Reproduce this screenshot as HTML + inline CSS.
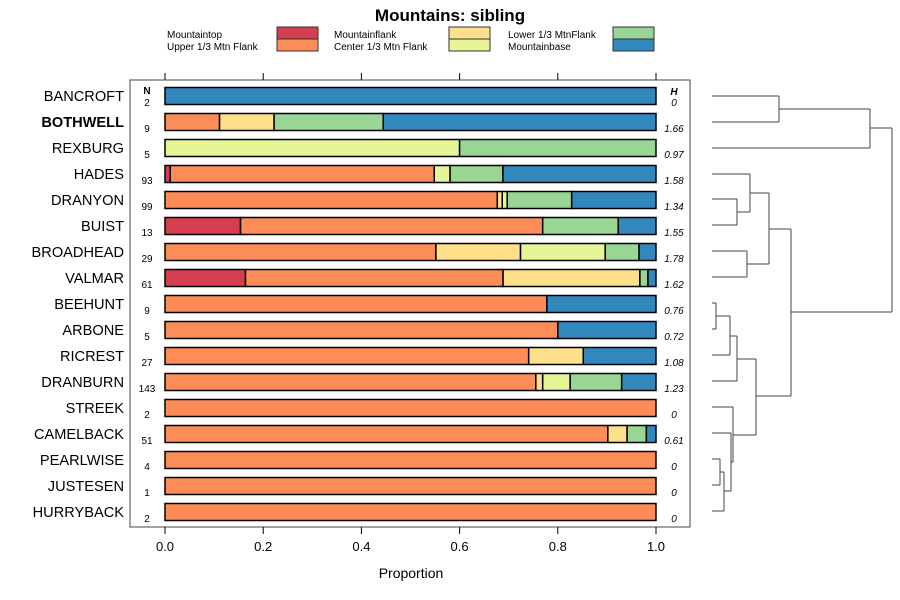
<!DOCTYPE html>
<html><head><meta charset="utf-8"><style>
body{margin:0;background:#fff}
svg{display:block;font-family:"Liberation Sans",sans-serif}
</style></head><body>
<svg id="c" width="900" height="600" viewBox="0 0 900 600"></svg>
<script>
const sites=["BANCROFT","BOTHWELL","REXBURG","HADES","DRANYON","BUIST","BROADHEAD","VALMAR","BEEHUNT","ARBONE","RICREST","DRANBURN","STREEK","CAMELBACK","PEARLWISE","JUSTESEN","HURRYBACK"];
const categories=["Mountaintop","Upper 1/3 Mtn Flank","Mountainflank","Center 1/3 Mtn Flank","Lower 1/3 MtnFlank","Mountainbase"];
const colors=["#d53e4f","#fc8d59","#fee08b","#e6f598","#99d594","#3288bd"];
const mountaintop=[0,0,0,1,0,2,0,10,0,0,0,0,0,0,0,0,0];
const upperFlank=[0,1,0,50,67,8,16,32,7,4,20,108,2,46,4,1,2];
const mountainflank=[0,1,0,0,1,0,5,17,0,0,3,2,0,2,0,0,0];
const centerFlank=[0,0,3,3,1,0,5,0,0,0,0,8,0,0,0,0,0];
const lowerFlank=[0,2,2,10,13,2,2,1,0,0,0,15,0,2,0,0,0];
const mountainbase=[2,5,0,29,17,1,1,1,2,1,4,10,0,1,0,0,0];
const hValues=["0","1.66","0.97","1.58","1.34","1.55","1.78","1.62","0.76","0.72","1.08","1.23","0","0.61","0","0","0"];
const xTicks=[0,0.2,0.4,0.6,0.8,1.0];
const xTickLabels=["0.0","0.2","0.4","0.6","0.8","1.0"];
const series=[mountaintop,upperFlank,mountainflank,centerFlank,lowerFlank,mountainbase];

const svg=document.getElementById('c');
const NS='http://www.w3.org/2000/svg';
function mk(t,a,txt){const e=document.createElementNS(NS,t);for(const k in a)e.setAttribute(k,a[k]);if(txt!==undefined)e.textContent=txt;svg.appendChild(e);return e;}
const X=v=>165+v*491;
const Y=i=>96+i*26;

let e=mk('text',{x:450,y:21,'text-anchor':'middle','font-size':17,'font-weight':'bold'},'Mountains: sibling');


const lx=[167,334,508], bx=[277,449,613];
categories.forEach((c,k)=>{const col=Math.floor(k/2),r=k%2;
 let t=mk('text',{x:lx[col],y:38+r*12,'font-size':10},c);
 
 let b=mk('rect',{x:bx[col],y:27+r*12,width:41,height:12,fill:colors[k],stroke:'#333','stroke-width':1});
 
});

e=mk('rect',{x:130,y:80,width:560,height:447,fill:'none',stroke:'#444','stroke-width':1});

xTicks.forEach((v,k)=>{
 let t=mk('line',{x1:X(v),x2:X(v),y1:80,y2:73,stroke:'#000'});
 
 t=mk('line',{x1:X(v),x2:X(v),y1:527,y2:534,stroke:'#000'});
 
 t=mk('text',{x:X(v),y:551,'text-anchor':'middle','font-size':13},xTickLabels[k]);
 
});
e=mk('text',{x:411,y:578,'text-anchor':'middle','font-size':14},'Proportion');

e=mk('text',{x:147,y:94,'text-anchor':'middle','font-size':10,'font-weight':'bold'},'N');

e=mk('text',{x:674,y:95,'text-anchor':'middle','font-size':10,'font-weight':'bold','font-style':'italic'},'H');


sites.forEach((s,i)=>{
 const y=Y(i);
 let n=0;series.forEach(a=>n+=a[i]);
 let t=mk('text',{x:124,y:y+5,'text-anchor':'end','font-size':14.6,'font-weight':s==='BOTHWELL'?'bold':'normal'},s);
 
 t=mk('text',{x:147,y:y+10,'text-anchor':'middle','font-size':10},String(n));
 
 t=mk('text',{x:674,y:y+10,'text-anchor':'middle','font-size':10,'font-style':'italic'},hValues[i]);
 
 let cum=0;
 series.forEach((a,k)=>{if(!a[i])return;
  const x0=X(cum/n);cum+=a[i];const x1=X(cum/n);
  let r=mk('rect',{x:x0,y:y-8.5,width:x1-x0,height:17,fill:colors[k],stroke:'#000','stroke-width':1.5});
  
 });
});

const L=712;
const segs=[
 [L,96,779,96],[L,122,779,122],[779,96,779,122],[779,109,870,109],[L,148,870,148],[870,109,870,148],[870,128,892,128],
 [L,174,750,174],[L,199,737,199],[L,225,737,225],[737,199,737,225],[737,212,750,212],[750,174,750,212],[750,193,769,193],
 [L,251,747,251],[L,277,747,277],[747,251,747,277],[747,264,769,264],[769,193,769,264],[769,229,791,229],
 [L,303,716,303],[L,329,716,329],[716,303,716,329],[716,316,730,316],[L,355,730,355],[730,316,730,355],[730,336,737,336],
 [L,381,737,381],[737,336,737,381],[737,359,756,359],
 [L,407,733,407],[L,433,731,433],[L,459,720,459],[L,485,720,485],[720,459,720,485],[720,472,724,472],[L,511,724,511],[724,472,724,511],
 [724,491,731,491],[731,433,731,491],[731,462,733,462],[733,407,733,462],[733,435,756,435],[756,359,756,435],[756,396,791,396],
 [791,229,791,396],[791,312,892,312],[892,128,892,312]
];
segs.forEach(s=>{let l=mk('line',{x1:s[0],y1:s[1],x2:s[2],y2:s[3],stroke:'#444','stroke-width':1});
 });
</script>
</body></html>
